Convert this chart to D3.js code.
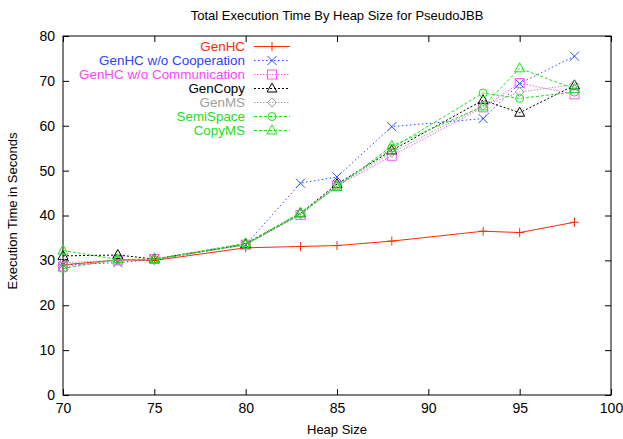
<!DOCTYPE html>
<html><head><meta charset="utf-8">
<script src="https://cdnjs.cloudflare.com/ajax/libs/d3/7.8.5/d3.min.js"></script>
<style>body{margin:0;background:#fff}svg{display:block}text{font-family:"Liberation Sans",Arial,Helvetica,sans-serif}</style>
</head><body><svg id="c" width="623" height="439"></svg>
<script>
const heapSizes = [70, 73, 75, 80, 83, 85, 88, 93, 95, 98];
const genHC        = [29.0, 30.1, 30.0, 32.8, 33.1, 33.3, 34.3, 36.5, 36.2, 38.5];
const genHCNoCoop  = [29.0, 29.5, 30.2, 33.5, 47.2, 48.6, 59.8, 61.6, 69.4, 75.5];
const genHCNoComm  = [28.6, 30.0, 30.3, 33.5, 40.1, 46.6, 53.3, 64.1, 69.5, 67.0];
const genCopy      = [31.0, 31.2, 30.3, 33.6, 40.5, 47.0, 54.5, 65.7, 62.9, 69.0];
const genMS        = [29.5, 30.0, 30.2, 33.5, 40.3, 46.8, 54.0, 64.5, 67.5, 69.2];
const semiSpace    = [28.2, 30.2, 30.2, 33.5, 40.3, 46.5, 55.0, 67.3, 66.1, 67.5];
const copyMS       = [32.2, 30.2, 30.3, 33.8, 40.6, 46.3, 55.5, 64.3, 72.8, 68.2];
const seriesNames  = ["GenHC", "GenHC w/o Cooperation", "GenHC w/o Communication", "GenCopy", "GenMS", "SemiSpace", "CopyMS"];
const xTicks = [70, 75, 80, 85, 90, 95, 100];
const yTicks = [0, 10, 20, 30, 40, 50, 60, 70, 80];

const seriesData = [genHC, genHCNoCoop, genHCNoComm, genCopy, genMS, semiSpace, copyMS];
const styles = [
  {color:"#ff2a00", text:"#ff2a00", dash:null, marker:"plus"},
  {color:"#2a4cff", text:"#2a44ff", dash:"1.5,2.5", marker:"cross"},
  {color:"#ff55ff", text:"#ff44ff", dash:"1.5,1.5", marker:"square"},
  {color:"#000000", text:"#000000", dash:"2,2", marker:"triangle"},
  {color:"#a0a0a0", text:"#a0a0a0", dash:"1.5,1.5", marker:"diamond"},
  {color:"#22dd22", text:"#22dd22", dash:"3,2", marker:"circle"},
  {color:"#22dd22", text:"#22dd22", dash:"3,2", marker:"triangle"}
];

const svg = d3.select("#c");
const L = 63, R = 611, T = 36, B = 395;
const x = d3.scaleLinear().domain([70, 100]).range([L, R]);
const y = d3.scaleLinear().domain([0, 80]).range([B, T]);

svg.append("rect").attr("x", L).attr("y", T).attr("width", R - L).attr("height", B - T)
  .attr("fill", "none").attr("stroke", "#000").attr("stroke-width", 1);

const fs = "14px";
svg.append("g").attr("transform", `translate(0,${B})`)
  .call(d3.axisBottom(x).tickValues(xTicks).tickSize(-6).tickPadding(8).tickFormat(d3.format("d")))
  .call(g => g.select(".domain").remove())
  .call(g => g.selectAll("text").attr("font-size", fs).attr("fill", "#000"));
svg.append("g").attr("transform", `translate(0,${T})`)
  .call(d3.axisTop(x).tickValues(xTicks).tickSize(-6).tickFormat(""))
  .call(g => g.select(".domain").remove());
svg.append("g").attr("transform", `translate(${L},0)`)
  .call(d3.axisLeft(y).tickValues(yTicks).tickSize(-6).tickPadding(8).tickFormat(d3.format("d")))
  .call(g => g.select(".domain").remove())
  .call(g => g.selectAll("text").attr("font-size", fs).attr("fill", "#000"));
svg.append("g").attr("transform", `translate(${R},0)`)
  .call(d3.axisRight(y).tickValues(yTicks).tickSize(-6).tickFormat(""))
  .call(g => g.select(".domain").remove());

svg.append("text").attr("x", 337).attr("y", 20).attr("text-anchor", "middle").attr("font-size", "13px").text("Total Execution Time By Heap Size for PseudoJBB");
svg.append("text").attr("x", 337).attr("y", 434).attr("text-anchor", "middle").attr("font-size", "13px").text("Heap Size");
svg.append("text").attr("transform", "translate(17,211) rotate(-90)").attr("text-anchor", "middle").attr("font-size", "13px").text("Execution Time in Seconds");

function drawMarker(g, type, cx, cy, color) {
  const s = 4.5;
  if (type === "plus") {
    g.append("path").attr("d", `M${cx-s},${cy}H${cx+s}M${cx},${cy-s}V${cy+s}`).attr("stroke", color).attr("fill", "none");
  } else if (type === "cross") {
    g.append("path").attr("d", `M${cx-s},${cy-s}L${cx+s},${cy+s}M${cx-s},${cy+s}L${cx+s},${cy-s}`).attr("stroke", color).attr("fill", "none");
  } else if (type === "square") {
    g.append("rect").attr("x", cx-s).attr("y", cy-s).attr("width", 2*s).attr("height", 2*s).attr("stroke", color).attr("fill", "none");
  } else if (type === "triangle") {
    g.append("path").attr("d", `M${cx},${cy-s-1}L${cx+s+0.5},${cy+s-1}L${cx-s-0.5},${cy+s-1}Z`).attr("stroke", color).attr("fill", "none");
  } else if (type === "diamond") {
    g.append("path").attr("d", `M${cx},${cy-s}L${cx+s},${cy}L${cx},${cy+s}L${cx-s},${cy}Z`).attr("stroke", color).attr("fill", "none");
  } else if (type === "circle") {
    g.append("circle").attr("cx", cx).attr("cy", cy).attr("r", s - 0.5).attr("stroke", color).attr("fill", "none");
  }
}

const line = d3.line().x((d, i) => x(heapSizes[i])).y(d => y(d));
seriesData.forEach((vals, k) => {
  const st = styles[k];
  const g = svg.append("g");
  g.append("path").attr("d", line(vals)).attr("fill", "none").attr("stroke", st.color)
    .attr("stroke-width", 1).attr("stroke-dasharray", st.dash);
  vals.forEach((v, i) => drawMarker(g, st.marker, x(heapSizes[i]), y(v), st.color));
});

seriesNames.forEach((name, k) => {
  const st = styles[k];
  const yy = 46.5 + k * 14;
  const g = svg.append("g");
  g.append("text").attr("x", 245).attr("y", yy + 4.5).attr("text-anchor", "end").attr("font-size", "13.4px")
    .attr("textLength", null).attr("fill", st.text).text(name);
  g.append("line").attr("x1", 254).attr("x2", 290).attr("y1", yy).attr("y2", yy).attr("stroke", st.color).attr("stroke-dasharray", st.dash);
  drawMarker(g, st.marker, 272, yy, st.color);
});
</script></body></html>
